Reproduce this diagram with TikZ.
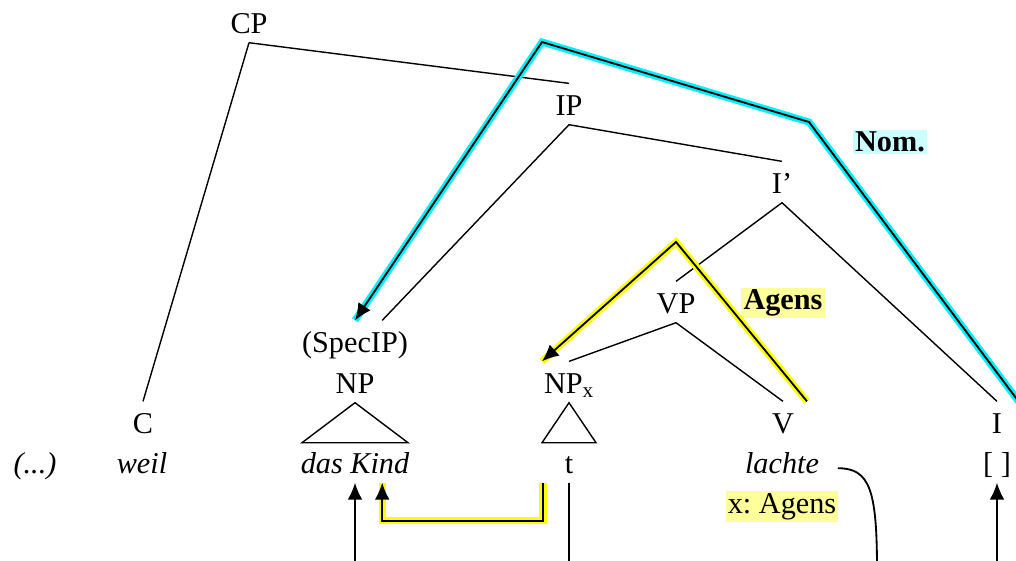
\documentclass[tikz,border=0pt]{standalone}
\usepackage{fontspec}
\setmainfont{Liberation Serif}
\usepackage{xcolor}
\usetikzlibrary{arrows.meta}
\definecolor{nomcyan}{RGB}{0,240,255}
\definecolor{nombg}{RGB}{204,255,255}
\definecolor{agyellow}{RGB}{255,255,0}
\definecolor{agbg}{RGB}{255,255,153}

\begin{document}
\begin{tikzpicture}[x=0.025cm,y=-0.025cm,>={Latex[length=12pt,width=10.5pt]},line width=1pt,
  font=\fontsize{21.5}{26}\selectfont,
  cat/.style={anchor=base,text height=18.6pt,text depth=3pt,inner ysep=3.4pt,inner xsep=1pt},
  word/.style={cat,font=\fontsize{21.5}{26}\selectfont\itshape},
  tag/.style={font=\fontsize{21.5}{26}\selectfont\bfseries,inner sep=1.5pt},
  nompath/.style={->,line width=1.3pt,preaction={draw,nomcyan,line width=5pt,-}},
  agpath/.style={line width=1.3pt,preaction={draw,agyellow,line width=5pt,-}}]
\useasboundingbox (0,0) rectangle (1016,560); \clip (0,0) rectangle (1016,560);
% categories
\node[cat] (cp) at (249,33) {CP};
\node[cat] (ip) at (569,115) {IP};
\node[cat] (ib) at (782,193) {I’};
\node[cat] (vp) at (676,313) {VP};
\node[cat] (spec) at (355,352) {(SpecIP)};
\node[cat] (np) at (355,393) {NP};
\node[cat] (npx) at (569,393) {NP\textsubscript{x}};
\node[cat] (c) at (143,433) {C}; \node[cat] (v) at (783,433) {V}; \node[cat] (i) at (997,433) {I};
% words
\node[word] (dots) at (35,473) {(...)}; \node[word] (weil) at (142,473) {weil};
\node[word] (kind) at (355,473) {das Kind}; \node[cat] (t) at (569,473) {t};
\node[word] (lachte) at (782,473) {lachte}; \node[cat] (infl) at (997,473) {[ ]};
\node[anchor=base,fill=agbg,inner sep=1.5pt] (xag) at (782,513) {x:\ Agens};
\node[tag,fill=nombg] (nom) at (890,142) {Nom.};
\node[tag,fill=agbg] (ag) at (783,303) {Agens};
% tree
\draw (cp.south) -- (c.north); \draw (cp.south) -- (ip.north);
\draw (ip.south) -- ([xshift=.68cm]spec.north); \draw (ip.south) -- (ib.north);
\draw (ib.south) -- (vp.north); \draw (ib.south) -- (i.north);
\draw (vp.south) -- (npx.north); \draw (vp.south) -- (v.north);
\draw (np.south) -- ++(-53,40) -- ++(106,0) -- cycle;
\draw (npx.south) -- ++(-27,40) -- ++(54,0) -- cycle;
% case and theta paths
\coordinate (nomfrom) at (1040,430);
\draw[nompath] (nomfrom) -- (809,122) -- (542,42) -- (spec.north);
\draw[agpath,->] ([xshift=.6cm]v.north) -- (676,242) -- (npx.north west);
\draw[agpath,->] ([xshift=-.65cm]t.south) -- ++(0,38) -| ([xshift=.68cm]kind.south);
% from below
\coordinate (kindbot) at (355,570); \coordinate (tbot) at (569,570);
\coordinate (lbot) at (877,570); \coordinate (inflbot) at (997,570);
\draw[->,line width=1.3pt] (kindbot) -- (kind.south);
\draw[line width=1.3pt] (t.south) -- (tbot);
\draw[line width=1.3pt] ([xshift=.42cm,yshift=.12cm]lachte.base east) .. controls +(32,0) and +(0,-80) .. (lbot);
\draw[->,line width=1.3pt] (inflbot) -- (infl.south);
\end{tikzpicture}
\end{document}
